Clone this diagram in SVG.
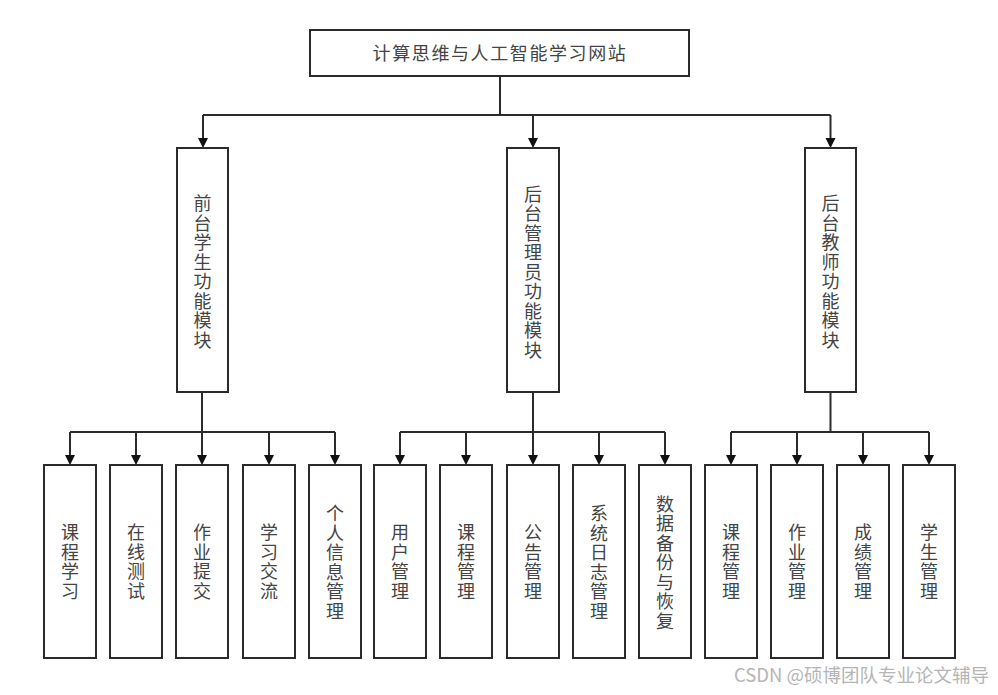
<svg xmlns="http://www.w3.org/2000/svg" width="998" height="695" viewBox="0 0 998 695">
<style>
.box{fill:#fff;stroke:#2b2b2b;stroke-width:2}
.ln{fill:none;stroke:#2b2b2b;stroke-width:2}
.t{font-family:"Noto Sans CJK SC","Noto Sans",sans-serif;font-size:18px;fill:#444;text-anchor:middle}
.wm{font-family:"Noto Sans CJK SC","Noto Sans",sans-serif;font-size:18.5px;fill:#b5b5b5}
</style>
<rect width="998" height="695" fill="#fff"/>
<g id="connectors">
<path class="ln" d="M500,76 V115 M203,115 H830.5 M70,432 H335 M400,432 H665 M731,432 H929"/>
<path class="ln" d="M202,392 V432 M533,392 V432 M830.5,392 V432"/>
<path class="ln" d="M203,115 V140 M533,115 V140 M830.5,115 V140"/>
<path fill="#111" d="M198,138 h10 l-5,10 z M528,138 h10 l-5,10 z M825.5,138 h10 l-5,10 z"/>
<path class="ln" d="M70,432 V457 M136,432 V457 M202,432 V457 M269,432 V457 M335,432 V457 M400,432 V457 M466,432 V457 M533,432 V457 M599,432 V457 M665,432 V457 M731,432 V457 M797,432 V457 M863,432 V457 M929,432 V457"/>
<path fill="#111" d="M65,455 h10 l-5,10 z M131,455 h10 l-5,10 z M197,455 h10 l-5,10 z M264,455 h10 l-5,10 z M330,455 h10 l-5,10 z M395,455 h10 l-5,10 z M461,455 h10 l-5,10 z M528,455 h10 l-5,10 z M594,455 h10 l-5,10 z M660,455 h10 l-5,10 z M726,455 h10 l-5,10 z M792,455 h10 l-5,10 z M858,455 h10 l-5,10 z M924,455 h10 l-5,10 z"/>
</g>
<g id="root">
<rect class="box" x="310" y="30" width="379" height="46"/>
<text class="t" x="500" y="60" letter-spacing="1.6">计算思维与人工智能学习网站</text>
</g>
<g id="mod1">
<rect class="box" x="177" y="148" width="51" height="244"/>
<text class="t"><tspan x="202.5" y="210">前</tspan><tspan x="202.5" dy="19.5">台</tspan><tspan x="202.5" dy="19.5">学</tspan><tspan x="202.5" dy="19.5">生</tspan><tspan x="202.5" dy="19.5">功</tspan><tspan x="202.5" dy="19.5">能</tspan><tspan x="202.5" dy="19.5">模</tspan><tspan x="202.5" dy="19.5">块</tspan></text>
</g>
<g id="mod2">
<rect class="box" x="507" y="148" width="52" height="244"/>
<text class="t"><tspan x="533" y="200.5">后</tspan><tspan x="533" dy="19.5">台</tspan><tspan x="533" dy="19.5">管</tspan><tspan x="533" dy="19.5">理</tspan><tspan x="533" dy="19.5">员</tspan><tspan x="533" dy="19.5">功</tspan><tspan x="533" dy="19.5">能</tspan><tspan x="533" dy="19.5">模</tspan><tspan x="533" dy="19.5">块</tspan></text>
</g>
<g id="mod3">
<rect class="box" x="805" y="148" width="51" height="244"/>
<text class="t"><tspan x="830.5" y="210">后</tspan><tspan x="830.5" dy="19.5">台</tspan><tspan x="830.5" dy="19.5">教</tspan><tspan x="830.5" dy="19.5">师</tspan><tspan x="830.5" dy="19.5">功</tspan><tspan x="830.5" dy="19.5">能</tspan><tspan x="830.5" dy="19.5">模</tspan><tspan x="830.5" dy="19.5">块</tspan></text>
</g>
<g id="leaf1"><rect class="box" x="44" y="465" width="52" height="193"/>
<text class="t"><tspan x="70" y="539">课</tspan><tspan x="70" dy="19.5">程</tspan><tspan x="70" dy="19.5">学</tspan><tspan x="70" dy="19.5">习</tspan></text></g>
<g id="leaf2"><rect class="box" x="110" y="465" width="52" height="193"/>
<text class="t"><tspan x="136" y="539">在</tspan><tspan x="136" dy="19.5">线</tspan><tspan x="136" dy="19.5">测</tspan><tspan x="136" dy="19.5">试</tspan></text></g>
<g id="leaf3"><rect class="box" x="176" y="465" width="52" height="193"/>
<text class="t"><tspan x="202" y="539">作</tspan><tspan x="202" dy="19.5">业</tspan><tspan x="202" dy="19.5">提</tspan><tspan x="202" dy="19.5">交</tspan></text></g>
<g id="leaf4"><rect class="box" x="243" y="465" width="52" height="193"/>
<text class="t"><tspan x="269" y="539">学</tspan><tspan x="269" dy="19.5">习</tspan><tspan x="269" dy="19.5">交</tspan><tspan x="269" dy="19.5">流</tspan></text></g>
<g id="leaf5"><rect class="box" x="309" y="465" width="52" height="193"/>
<text class="t"><tspan x="335" y="520">个</tspan><tspan x="335" dy="19.5">人</tspan><tspan x="335" dy="19.5">信</tspan><tspan x="335" dy="19.5">息</tspan><tspan x="335" dy="19.5">管</tspan><tspan x="335" dy="19.5">理</tspan></text></g>
<g id="leaf6"><rect class="box" x="374" y="465" width="52" height="193"/>
<text class="t"><tspan x="400" y="539">用</tspan><tspan x="400" dy="19.5">户</tspan><tspan x="400" dy="19.5">管</tspan><tspan x="400" dy="19.5">理</tspan></text></g>
<g id="leaf7"><rect class="box" x="440" y="465" width="52" height="193"/>
<text class="t"><tspan x="466" y="539">课</tspan><tspan x="466" dy="19.5">程</tspan><tspan x="466" dy="19.5">管</tspan><tspan x="466" dy="19.5">理</tspan></text></g>
<g id="leaf8"><rect class="box" x="507" y="465" width="52" height="193"/>
<text class="t"><tspan x="533" y="539">公</tspan><tspan x="533" dy="19.5">告</tspan><tspan x="533" dy="19.5">管</tspan><tspan x="533" dy="19.5">理</tspan></text></g>
<g id="leaf9"><rect class="box" x="573" y="465" width="52" height="193"/>
<text class="t"><tspan x="599" y="520">系</tspan><tspan x="599" dy="19.5">统</tspan><tspan x="599" dy="19.5">日</tspan><tspan x="599" dy="19.5">志</tspan><tspan x="599" dy="19.5">管</tspan><tspan x="599" dy="19.5">理</tspan></text></g>
<g id="leaf10"><rect class="box" x="639" y="465" width="52" height="193"/>
<text class="t"><tspan x="665" y="510.5">数</tspan><tspan x="665" dy="19.5">据</tspan><tspan x="665" dy="19.5">备</tspan><tspan x="665" dy="19.5">份</tspan><tspan x="665" dy="19.5">与</tspan><tspan x="665" dy="19.5">恢</tspan><tspan x="665" dy="19.5">复</tspan></text></g>
<g id="leaf11"><rect class="box" x="705" y="465" width="52" height="193"/>
<text class="t"><tspan x="731" y="539">课</tspan><tspan x="731" dy="19.5">程</tspan><tspan x="731" dy="19.5">管</tspan><tspan x="731" dy="19.5">理</tspan></text></g>
<g id="leaf12"><rect class="box" x="771" y="465" width="52" height="193"/>
<text class="t"><tspan x="797" y="539">作</tspan><tspan x="797" dy="19.5">业</tspan><tspan x="797" dy="19.5">管</tspan><tspan x="797" dy="19.5">理</tspan></text></g>
<g id="leaf13"><rect class="box" x="837" y="465" width="52" height="193"/>
<text class="t"><tspan x="863" y="539">成</tspan><tspan x="863" dy="19.5">绩</tspan><tspan x="863" dy="19.5">管</tspan><tspan x="863" dy="19.5">理</tspan></text></g>
<g id="leaf14"><rect class="box" x="903" y="465" width="52" height="193"/>
<text class="t"><tspan x="929" y="539">学</tspan><tspan x="929" dy="19.5">生</tspan><tspan x="929" dy="19.5">管</tspan><tspan x="929" dy="19.5">理</tspan></text></g>
<text class="wm" x="734" y="682">CSDN @硕博团队专业论文辅导</text>
</svg>
